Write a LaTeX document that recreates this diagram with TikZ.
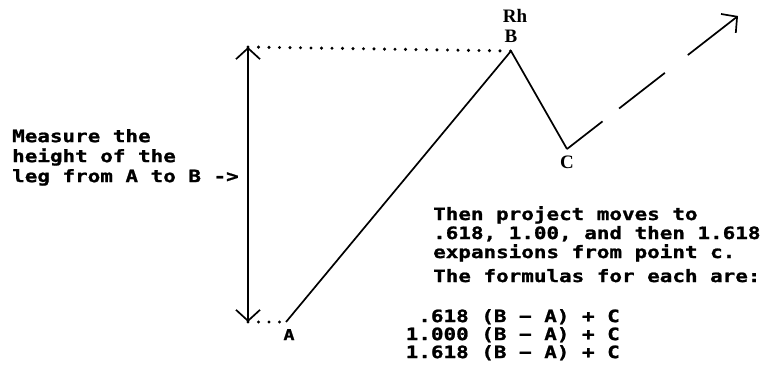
\documentclass[tikz,border=0pt]{standalone}
\usepackage{fontspec}
\usepackage{tikz}
\usetikzlibrary{arrows.meta,positioning}
\newfontfamily\pixfont[FakeStretch=1.23,FakeBold=1.2]{DejaVu Sans Mono Bold}
\newfontfamily\labfont{Liberation Serif Bold}
\tikzset{
  leg/.style={line width=1.7pt,draw=black,line join=round},
  levelArr/.style={
    leg,{Straight Barb[length=11pt,width=24pt]}-{Straight Barb[length=11pt,width=24pt]}
  },
  guide/.style={line width=3.4pt,line cap=round,dash pattern=on 0pt off 10.5pt},
  proj/.style={
    leg,dash pattern=on 45pt off 21pt on 58pt off 29pt on 62pt,
    -{Straight Barb[length=11pt,width=24pt]}
  },
  ptlab/.style={font=\labfont\fontsize{19}{19}\selectfont,inner sep=0pt},
  note/.style={font=\pixfont\fontsize{17}{20}\selectfont,align=left,inner sep=0pt}
}

\begin{document}
\begin{tikzpicture}[x=1pt,y=-1pt,node distance=8pt]
  \useasboundingbox (0,0) rectangle (770,366);
  % the leg and the swing points
  \coordinate (top) at (248,47);
  \coordinate (bot) at (248,322);
  \coordinate (A) at (286,322);
  \coordinate (B) at (511,51);
  \coordinate (C) at (567,149);
  \coordinate (target) at (738,16);
  \draw[levelArr] (bot) -- (top);
  \draw[guide] (top) -- (B);
  \draw[guide] (bot) -- (A);
  \draw[leg] (A) -- (B) -- (C);
  \draw[proj] (C) -- (target);
  % point labels
  \node[ptlab,above=8pt of B] (labB) {B};
  \node[ptlab,above=7pt of labB,xshift=4pt] (labRh) {Rh};
  \node[ptlab,below=7pt of C] (labC) {C};
  \node[font=\pixfont\fontsize{15}{15}\selectfont,inner sep=0pt,below=7pt of A,xshift=3pt] (labA) {A};
  % notes
  \node[note,anchor=north west] (measure) at (12,129)
    {Measure the\\height of the\\leg from A to B ->};
  \node[note,font=\pixfont\fontsize{17}{19}\selectfont,anchor=north west] (project) at (433,206)
    {Then project moves to\\.618, 1.00, and then 1.618\\expansions from point c.\\[5pt]The formulas for each are:};
  \node[note,font=\pixfont\fontsize{17}{18}\selectfont,align=right,anchor=north east] (formulas) at (620,309)
    {.618 (B − A) + C\\1.000 (B − A) + C\\1.618 (B − A) + C};
\end{tikzpicture}
\end{document}
